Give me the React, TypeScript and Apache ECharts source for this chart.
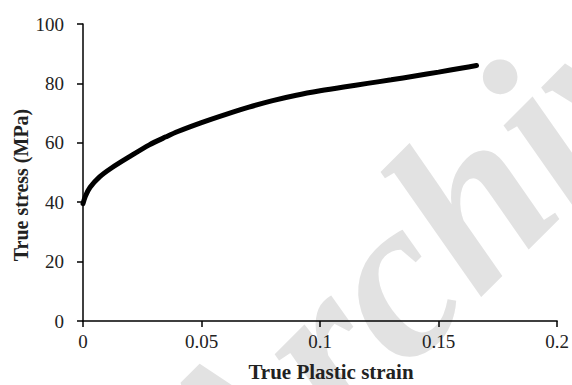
import React, { useEffect, useRef } from "react";
import * as echarts from "echarts";

const strain = [0, 0.001, 0.003, 0.007, 0.012, 0.02, 0.028, 0.035, 0.04, 0.05, 0.06, 0.07, 0.08, 0.09, 0.1, 0.11, 0.12, 0.13, 0.14, 0.15, 0.16, 0.166];
const stress = [39.5, 42, 45, 48.5, 51.5, 55.5, 59.3, 62, 63.8, 66.8, 69.5, 72, 74.2, 76, 77.5, 78.8, 80, 81.2, 82.5, 83.8, 85.2, 86];
const xTicks = [0, 0.05, 0.1, 0.15, 0.2];
const yTicks = [0, 20, 40, 60, 80, 100];
const xTitle = "True Plastic strain";
const yTitle = "True stress (MPa)";
const watermark = "Archive";

const FONT = "'Liberation Serif', 'Times New Roman', serif";

export default function App() {
  const ref = useRef<HTMLDivElement>(null);
  useEffect(() => {
    if (!ref.current) return;
    const chart = echarts.init(ref.current, undefined, { renderer: "svg" });
    chart.setOption({
      animation: false,
      backgroundColor: "#ffffff",
      graphic: [
        {
          type: "text",
          z: -10,
          silent: true,
          x: 98,
          y: 408,
          rotation: (45 * Math.PI) / 180,
          style: {
            text: watermark,
            font: "italic bold 230px 'Liberation Serif', serif",
            fill: "#e2e2e2",
          },
        },
        {
          type: "text",
          x: 331,
          y: 372,
          style: {
            text: xTitle,
            font: `bold 21px ${FONT}`,
            fill: "#222",
            align: "center",
            verticalAlign: "middle",
          },
        },
        {
          type: "text",
          x: 21,
          y: 185,
          rotation: Math.PI / 2,
          style: {
            text: yTitle,
            font: `bold 20px ${FONT}`,
            fill: "#222",
            align: "center",
            verticalAlign: "middle",
          },
        },
      ],
      grid: { left: 83, right: 14, top: 24, bottom: 64 },
      xAxis: {
        type: "value",
        min: 0,
        max: 0.2,
        interval: 0.05,
        axisLine: { show: true, lineStyle: { color: "#000", width: 1.5 } },
        axisTick: { show: true, inside: false, length: 6, lineStyle: { color: "#000", width: 1.5 } },
        axisLabel: {
          fontFamily: FONT,
          fontSize: 19,
          color: "#222",
          margin: 11,
          formatter: (v: number) => {
            const r = Math.round(v * 100) / 100;
            return xTicks.includes(r) ? String(r) : "";
          },
        },
        splitLine: { show: false },
      },
      yAxis: {
        type: "value",
        min: 0,
        max: 100,
        interval: 20,
        axisLine: { show: true, lineStyle: { color: "#000", width: 1.5 } },
        axisTick: { show: true, inside: false, length: 6, lineStyle: { color: "#000", width: 1.5 } },
        axisLabel: {
          fontFamily: FONT,
          fontSize: 19,
          color: "#222",
          margin: 19,
          formatter: (v: number) => (yTicks.includes(v) ? String(v) : ""),
        },
        splitLine: { show: false },
      },
      series: [
        {
          type: "line",
          data: strain.map((x, i) => [x, stress[i]]),
          smooth: 0.3,
          showSymbol: false,
          lineStyle: { color: "#000", width: 5, cap: "round" },
          z: 5,
        },
      ],
    });
    return () => chart.dispose();
  }, []);
  return <div ref={ref} style={{ width: 572, height: 385, position: "absolute", left: 0, top: 0 }} />;
}
